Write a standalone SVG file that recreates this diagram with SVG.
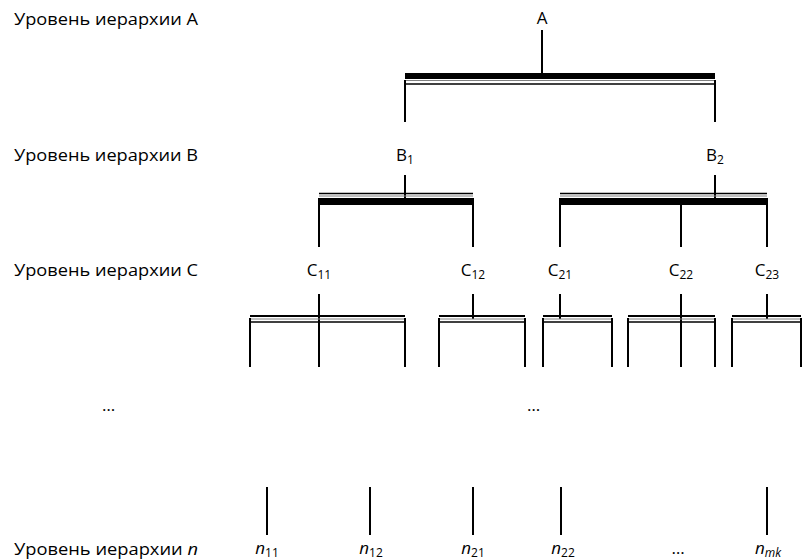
<svg xmlns="http://www.w3.org/2000/svg" width="803" height="560" viewBox="0 0 803 560">
<style>
text{font-family:"Open Sans","Liberation Sans",sans-serif;font-size:17px;fill:#000}
.lbl{font-size:17px}
.sub{font-size:12px}
.node{text-anchor:middle}
.ln{stroke:#000;stroke-width:2;fill:none}
.thin{stroke:#000;stroke-width:1.6;fill:none}
.gray{stroke:#808080;stroke-width:1;fill:none}
.bar{fill:#000}
</style>
<rect width="803" height="560" fill="#fff"/>
<g id="level-labels">
<text class="lbl" x="14" y="25" textLength="184" lengthAdjust="spacingAndGlyphs">Уровень иерархии А</text>
<text class="lbl" x="14" y="161" textLength="184" lengthAdjust="spacingAndGlyphs">Уровень иерархии В</text>
<text class="lbl" x="14" y="276" textLength="184" lengthAdjust="spacingAndGlyphs">Уровень иерархии С</text>
<text class="lbl" x="14" y="555" textLength="184" lengthAdjust="spacingAndGlyphs">Уровень иерархии <tspan font-style="italic">n</tspan></text>
<text x="102" y="411">…</text>
<text x="527" y="411">…</text>
</g>
<g id="node-A"><text class="node" x="542" y="24">A</text></g>
<g id="node-B1"><text class="node" x="405" y="161">B<tspan class="sub" dy="3">1</tspan></text></g>
<g id="node-B2"><text class="node" x="715" y="161">B<tspan class="sub" dy="3">2</tspan></text></g>
<g id="node-C11"><text class="node" x="319" y="276">C<tspan class="sub" dy="3">11</tspan></text></g>
<g id="node-C12"><text class="node" x="473" y="276">C<tspan class="sub" dy="3">12</tspan></text></g>
<g id="node-C21"><text class="node" x="560" y="276">C<tspan class="sub" dy="3">21</tspan></text></g>
<g id="node-C22"><text class="node" x="681" y="276">C<tspan class="sub" dy="3">22</tspan></text></g>
<g id="node-C23"><text class="node" x="767" y="276">C<tspan class="sub" dy="3">23</tspan></text></g>
<g id="node-n11"><text class="node" x="267" y="554"><tspan font-style="italic">n</tspan><tspan class="sub" dy="3">11</tspan></text></g>
<g id="node-n12"><text class="node" x="371" y="554"><tspan font-style="italic">n</tspan><tspan class="sub" dy="3">12</tspan></text></g>
<g id="node-n21"><text class="node" x="473" y="554"><tspan font-style="italic">n</tspan><tspan class="sub" dy="3">21</tspan></text></g>
<g id="node-n22"><text class="node" x="563" y="554"><tspan font-style="italic">n</tspan><tspan class="sub" dy="3">22</tspan></text></g>
<g id="node-dots"><text class="node" x="678" y="554">…</text></g>
<g id="node-nmk"><text class="node" x="768" y="554"><tspan font-style="italic">n</tspan><tspan class="sub" font-style="italic" dy="3">mk</tspan></text></g>
<g id="connectors">
<line class="ln" x1="542" y1="30" x2="542" y2="74"/>
<rect class="bar" x="405" y="73" width="310" height="6"/>
<line class="gray" x1="404" y1="80.5" x2="716" y2="80.5"/>
<line class="thin" x1="405" y1="84" x2="715" y2="84"/>
<line class="ln" x1="405" y1="80" x2="405" y2="122"/>
<line class="ln" x1="715" y1="80" x2="715" y2="122"/>
<line class="ln" x1="405" y1="175" x2="405" y2="200"/>
<line class="thin" x1="319" y1="193.5" x2="473" y2="193.5"/>
<line class="gray" x1="319" y1="196" x2="473" y2="196"/>
<rect class="bar" x="318" y="198" width="156" height="7"/>
<line class="ln" x1="319" y1="204" x2="319" y2="247"/>
<line class="ln" x1="473" y1="204" x2="473" y2="247"/>
<line class="ln" x1="715" y1="175" x2="715" y2="200"/>
<line class="thin" x1="560" y1="193.5" x2="767" y2="193.5"/>
<line class="gray" x1="560" y1="196" x2="767" y2="196"/>
<rect class="bar" x="559" y="198" width="209" height="7"/>
<line class="ln" x1="560" y1="204" x2="560" y2="247"/>
<line class="ln" x1="681" y1="204" x2="681" y2="247"/>
<line class="ln" x1="767" y1="204" x2="767" y2="247"/>
<line class="ln" x1="319" y1="294" x2="319" y2="367"/>
<line class="ln" x1="250" y1="316" x2="405" y2="316" stroke-width="2.6"/>
<line class="gray" x1="250" y1="319" x2="405" y2="319"/>
<line class="thin" x1="250" y1="322" x2="405" y2="322"/>
<line class="ln" x1="250" y1="318" x2="250" y2="367"/>
<line class="ln" x1="405" y1="318" x2="405" y2="367"/>
<line class="ln" x1="473" y1="294" x2="473" y2="319"/>
<line class="ln" x1="439" y1="316" x2="525" y2="316" stroke-width="2.6"/>
<line class="gray" x1="439" y1="319" x2="525" y2="319"/>
<line class="thin" x1="439" y1="322" x2="525" y2="322"/>
<line class="ln" x1="439" y1="318" x2="439" y2="367"/>
<line class="ln" x1="525" y1="318" x2="525" y2="367"/>
<line class="ln" x1="560" y1="294" x2="560" y2="319"/>
<line class="ln" x1="543" y1="316" x2="612" y2="316" stroke-width="2.6"/>
<line class="gray" x1="543" y1="319" x2="612" y2="319"/>
<line class="thin" x1="543" y1="322" x2="612" y2="322"/>
<line class="ln" x1="543" y1="318" x2="543" y2="367"/>
<line class="ln" x1="612" y1="318" x2="612" y2="367"/>
<line class="ln" x1="681" y1="294" x2="681" y2="367"/>
<line class="ln" x1="628" y1="316" x2="715" y2="316" stroke-width="2.6"/>
<line class="gray" x1="628" y1="319" x2="715" y2="319"/>
<line class="thin" x1="628" y1="322" x2="715" y2="322"/>
<line class="ln" x1="628" y1="318" x2="628" y2="367"/>
<line class="ln" x1="715" y1="318" x2="715" y2="367"/>
<line class="ln" x1="767" y1="294" x2="767" y2="319"/>
<line class="ln" x1="732" y1="316" x2="801" y2="316" stroke-width="2.6"/>
<line class="gray" x1="732" y1="319" x2="801" y2="319"/>
<line class="thin" x1="732" y1="322" x2="801" y2="322"/>
<line class="ln" x1="732" y1="318" x2="732" y2="367"/>
<line class="ln" x1="801" y1="318" x2="801" y2="367"/>
<line class="ln" x1="267" y1="487" x2="267" y2="535"/>
<line class="ln" x1="370" y1="487" x2="370" y2="535"/>
<line class="ln" x1="473" y1="487" x2="473" y2="535"/>
<line class="ln" x1="561" y1="487" x2="561" y2="535"/>
<line class="ln" x1="767" y1="487" x2="767" y2="535"/>
</g>
</svg>
